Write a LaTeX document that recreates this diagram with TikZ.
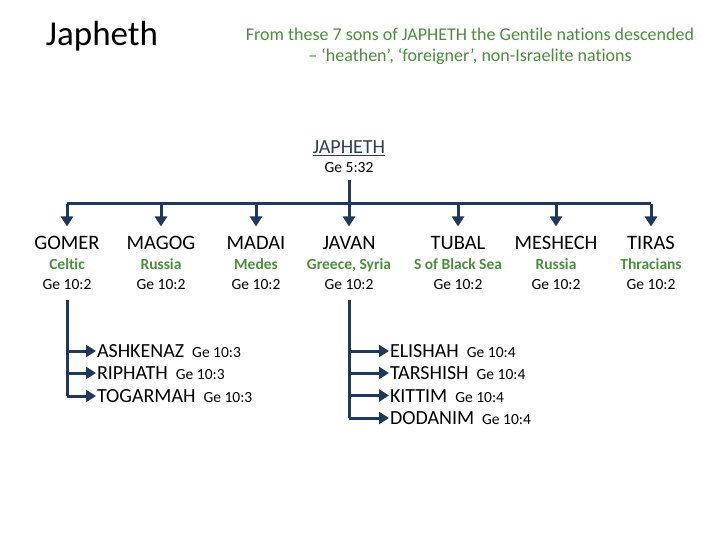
\documentclass[tikz,border=0pt]{standalone}
\usepackage{fontspec}
\setmainfont{Carlito}[RawFeature=-liga]
\usetikzlibrary{arrows.meta}
\definecolor{navy}{RGB}{31,56,92}
\definecolor{jgreen}{RGB}{76,140,62}
\definecolor{jtext}{RGB}{44,62,90}
\tikzset{
  conn/.style={draw=navy, line width=3pt},
  arr/.style={conn, -{Triangle[width=12pt,length=10pt]}},
  sonname/.style={font=\fontsize{20.5}{20.5}\selectfont, inner sep=0pt, text height=13pt, text depth=0pt, outer ysep=10pt, anchor=base},
  sonsub/.style={font=\fontsize{15.5}{15.5}\selectfont\bfseries, text=jgreen, inner sep=0pt, anchor=base},
  sonref/.style={font=\fontsize{15.5}{15.5}\selectfont, inner sep=0pt, text depth=0pt, anchor=base},
  kid/.style={font=\fontsize{20}{20}\selectfont, inner sep=0pt, text height=13pt, text depth=0pt, outer xsep=1pt, anchor=base west}
}
\newcommand{\kidtext}[2]{#1\hspace{8pt}{\fontsize{15.5}{15.5}\selectfont #2}}
\begin{document}
\begin{tikzpicture}[x=1pt,y=-1pt]
\useasboundingbox (0,0) rectangle (720,540);
% titles
\node[font=\fontsize{35}{35}\selectfont, inner sep=0pt, anchor=base] (title) at (102,46) {Japheth};
\node[font=\fontsize{18}{21}\selectfont, text=jgreen, align=center, inner sep=0pt] (head) at (470,46) {From these 7 sons of JAPHETH the Gentile nations descended\\ -- ‘heathen’, ‘foreigner’, non-Israelite nations};
% root
\node[font=\fontsize{20}{20}\selectfont, text=jtext, inner sep=0pt, anchor=base] (jap) at (349,154) {\underline{JAPHETH}};
\node[font=\fontsize{15.5}{15.5}\selectfont, inner sep=0pt, text depth=0pt, outer ysep=7pt, anchor=base] (japr) at (349,173) {Ge 5:32};
% sons
\foreach \n/\x/\nm/\sb in {gomer/67/GOMER/Celtic, magog/161/MAGOG/Russia, madai/256/MADAI/Medes, javan/349/JAVAN/{Greece, Syria}, tubal/458/TUBAL/S of Black Sea, meshech/556/MESHECH/Russia, tiras/651/TIRAS/Thracians}{
  \node[sonname] (\n) at (\x,249.5) {\nm};
  \node[sonsub] (\n s) at (\x,269.5) {\sb};
  \node[sonref] (\n r) at (\x,289.5) {Ge 10:2};
}
% bar
\coordinate (bar) at (349,204);
\draw[conn] (japr.south) -- (bar);
\draw[conn] (gomer.north |- bar) -- (tiras.north |- bar);
\foreach \n in {gomer,magog,madai,javan,tubal,meshech,tiras}{
  \draw[arr] (\n.north |- bar) -- (\n.north);
}
% Gomer's sons
\node[kid] (ashk) at (96,357.5) {\kidtext{ASHKENAZ}{Ge 10:3}};
\node[kid] (riph) at (96,379.5) {\kidtext{RIPHATH}{Ge 10:3}};
\node[kid] (toga) at (96,402.5) {\kidtext{TOGARMAH}{Ge 10:3}};
\draw[conn] ([yshift=-10pt]gomerr.south) -- (gomerr.south |- toga.west);
\foreach \k in {ashk,riph,toga}{\draw[arr] (gomerr.south |- \k.west) -- (\k.west);}
% Javan's sons
\node[kid] (elis) at (389,357.5) {\kidtext{ELISHAH}{Ge 10:4}};
\node[kid] (tars) at (389,379.5) {\kidtext{TARSHISH}{Ge 10:4}};
\node[kid] (kitt) at (389,402) {\kidtext{KITTIM}{Ge 10:4}};
\node[kid] (doda) at (389,424.5) {\kidtext{DODANIM}{Ge 10:4}};
\draw[conn] ([yshift=-10pt]javanr.south) -- (javanr.south |- doda.west);
\foreach \k in {elis,tars,kitt,doda}{\draw[arr] (javanr.south |- \k.west) -- (\k.west);}
\end{tikzpicture}
\end{document}
